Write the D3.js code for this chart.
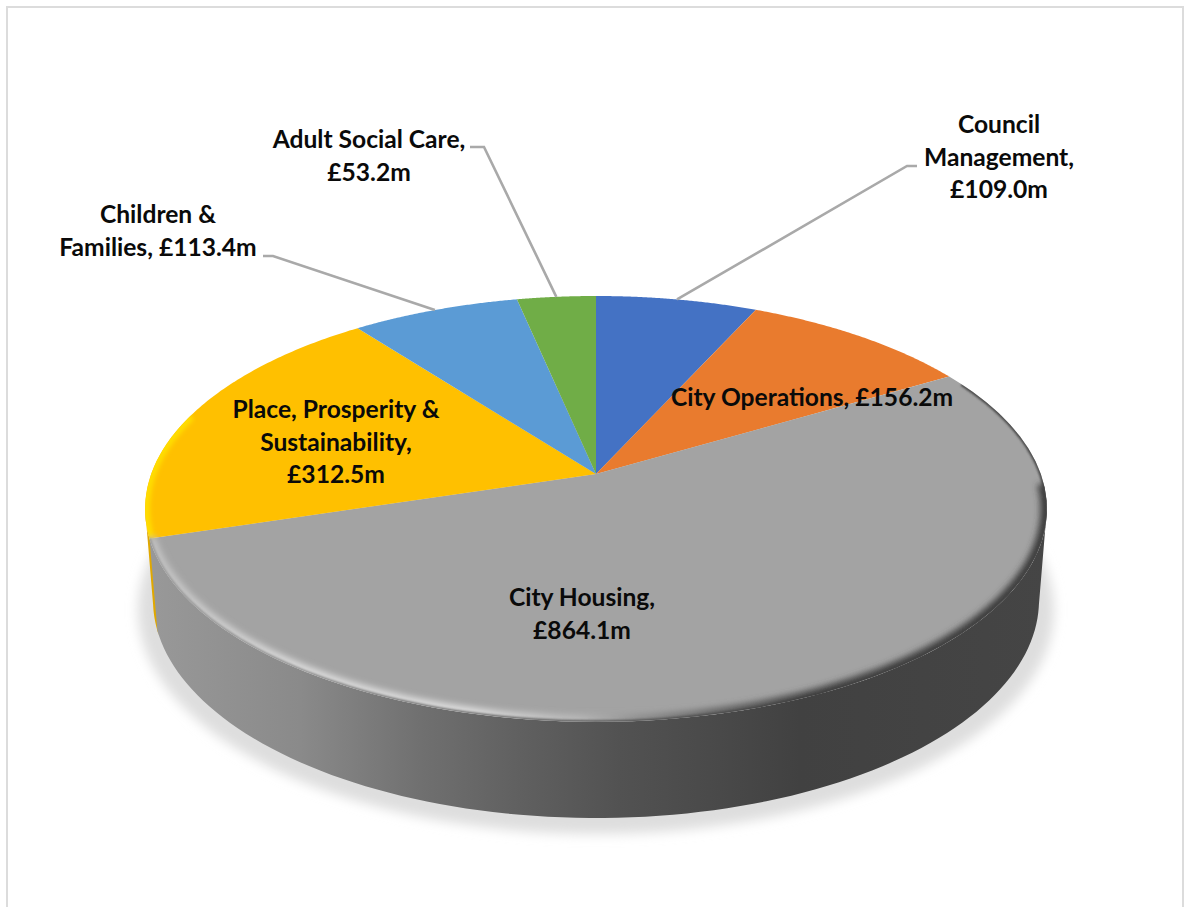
<!DOCTYPE html>
<html><head><meta charset="utf-8">
<script src="https://cdn.jsdelivr.net/npm/d3@7"></script>
<style>html,body{margin:0;padding:0;background:#fff;overflow:hidden}svg{display:block}
text{font-family:Lato,"Noto Sans",sans-serif;font-weight:700;font-size:24.6px;fill:#0a0a0a;text-anchor:middle}</style>
</head><body><svg id="c" width="1184" height="907"></svg>
<script>
const categories=["Council Management","City Operations","City Housing","Place, Prosperity & Sustainability","Children & Families","Adult Social Care"];
const values=[109.0,156.2,864.1,312.5,113.4,53.2];
const colours=["#4472C4","#E97B2E","#A3A3A3","#FFC000","#5B9BD5","#70AD47"];
const labelLines=[["Council","Management,","£109.0m"],["City Operations, £156.2m"],["City Housing,","£864.1m"],["Place, Prosperity &","Sustainability,","£312.5m"],["Children &","Families, £113.4m"],["Adult Social Care,","£53.2m"]];
// label layout: centre x, first baseline y, elbow and leader end (null = inside the slice)
const labelPos=[[999,133,[[907,166],[917,166]]],[812,406,null],[582,606,null],[336,418,null],[158,223,[[273,256],[263,256]]],[369,148,[[484,147],[470,147]]]];
const lineH=32.7;

const svg=d3.select("#c");
const cx=596,cy=474,k=0.164,a=207.2,b=444.8;
const proj=t=>{const w=1+k*Math.cos(t);return [cx+b*Math.sin(t)/w,cy-a*Math.cos(t)/w];};
const lowRx=443,lowCy=600,lowRy=218;
const projLow=t=>{const p=proj(t),dx=(p[0]-cx)*lowRx/451;
  return [cx+dx,lowCy+lowRy*Math.sqrt(Math.max(0,1-dx*dx/(lowRx*lowRx)))];};
const arcs=d3.pie().sort(null).value(d=>d)(values);
const line=d3.line();
const samples=(s,e,f)=>d3.range(0,101).map(i=>f(s+(e-s)*i/100));
const frontR=Math.acos(-k),frontL=2*Math.PI-frontR;

const defs=svg.append("defs");
const blur=(id,sd)=>defs.append("filter").attr("id",id).attr("x","-10%").attr("y","-10%").attr("width","120%").attr("height","120%").append("feGaussianBlur").attr("stdDeviation",sd);
blur("bShadow",6);blur("bRim",3.2);blur("bRimY",2);blur("bEdge",1);
const grad=(id,stops)=>{const g=defs.append("linearGradient").attr("id",id).attr("gradientUnits","userSpaceOnUse").attr("x1",145).attr("x2",1047).attr("y1",0).attr("y2",0);
  stops.forEach(s=>g.append("stop").attr("offset",(s[0]-145)/902).attr("stop-color",s[1]));};
grad("wall",[[145,"#999999"],[300,"#8a8a8a"],[420,"#707070"],[520,"#606060"],[620,"#525252"],[720,"#494949"],[800,"#414141"],[1047,"#454545"]]);
grad("rim",[[145,"#c0c0c0"],[300,"#dcdcdc"],[470,"#dedede"],[580,"#b8b8b8"],[640,"#8e8e8e"],[720,"#646464"],[810,"#444444"],[1047,"#3c3c3c"]]);
defs.append("clipPath").attr("id","topClip").append("path").attr("d",line(samples(0,2*Math.PI,proj))+"Z");

svg.append("rect").attr("x",7).attr("y",7).attr("width",1176).attr("height",920).attr("fill","#fff").attr("stroke","#dcdcdc").attr("stroke-width",2);
svg.append("ellipse").attr("cx",596).attr("cy",610).attr("rx",458).attr("ry",224).attr("fill","#dedede").attr("filter","url(#bShadow)");

// side wall
const band=(s,e)=>line([...samples(s,e,proj),...samples(s,e,projLow).reverse()])+"Z";
const grey=arcs[2],yel=arcs[3];
svg.append("path").attr("d",band(yel.startAngle-0.02,frontL)).attr("fill","#E0A800");
svg.append("path").attr("d",band(frontR,grey.endAngle)).attr("fill","url(#wall)");

// top faces
svg.append("g").selectAll("path").data(arcs).join("path")
  .attr("d",d=>line([[cx,cy],...samples(d.startAngle,d.endAngle,proj)])+"Z")
  .attr("fill",(d,i)=>colours[i]);

// bevel
const rimG=svg.append("g").attr("clip-path","url(#topClip)");
rimG.append("path").attr("d",line(samples(yel.startAngle,yel.startAngle+0.6,proj))).attr("fill","none")
  .attr("stroke","#FFDD00").attr("stroke-width",10).attr("filter","url(#bRimY)");
rimG.append("path").attr("d",line(samples(frontR-0.12,grey.endAngle,proj))).attr("fill","none")
  .attr("stroke","url(#rim)").attr("stroke-width",13).attr("filter","url(#bRim)");
rimG.append("path").attr("d",line(samples(grey.startAngle+0.05,frontR,proj))).attr("fill","none")
  .attr("stroke","#444444").attr("stroke-width",3.5).attr("filter","url(#bEdge)");
rimG.append("path").attr("d",line(samples(frontR,grey.endAngle,proj))).attr("fill","none")
  .attr("stroke","url(#wall)").attr("stroke-width",3).attr("filter","url(#bEdge)");

// leader lines: from the rim at the slice's middle angle to the label
labelPos.forEach((p,i)=>{ if(!p[2])return;
  const d=arcs[i],m=(d.startAngle+d.endAngle)/2;
  svg.append("path").attr("d",line([proj(m),...p[2]])).attr("fill","none").attr("stroke","#A9A9A9").attr("stroke-width",2.6);
});

// labels
labelLines.forEach((ls,i)=>{
  const t=svg.append("text").attr("x",labelPos[i][0]).attr("y",labelPos[i][1]);
  ls.forEach((s,j)=>t.append("tspan").attr("x",labelPos[i][0]).attr("dy",j?lineH:0).text(s));
});
</script></body></html>
